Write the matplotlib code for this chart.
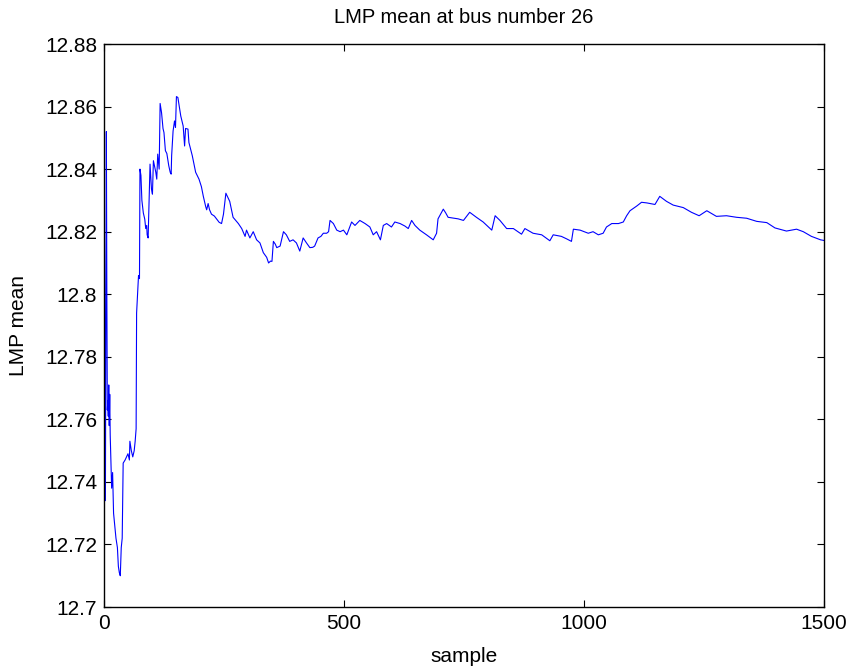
import matplotlib.pyplot as plt
from matplotlib.ticker import FuncFormatter

plt.rcParams['font.family'] = ['Liberation Sans', 'DejaVu Sans']

# running LMP mean (sample index, value)
sample = [1, 2, 3, 4, 5, 6, 7, 8, 9, 10, 11, 12, 13, 14, 15, 16, 18, 20, 23, 25,
          28, 30, 32, 34, 36, 38, 40, 44, 47, 50, 53, 54, 57, 60, 63, 65, 67, 68,
          70, 72, 74, 75, 77, 79, 82, 85, 87, 89, 90, 92, 94, 96, 99, 101, 103,
          106, 108, 110, 112, 115, 117, 120, 123, 125, 128, 131, 135, 138, 140,
          141, 144, 147, 149, 151, 154, 157, 160, 165, 168, 170, 175, 177, 184,
          191, 198, 203, 207, 212, 214, 217, 220, 224, 230, 235, 240, 245, 249,
          254, 258, 262, 269, 275, 280, 287, 294, 297, 304, 311, 318, 325, 332,
          339, 343, 347, 350, 353, 357, 360, 367, 374, 380, 387, 394, 401, 408,
          415, 422, 429, 435, 439, 446, 452, 457, 464, 468, 471, 478, 485, 492,
          499, 506, 516, 523, 533, 544, 554, 561, 568, 576, 582, 589, 599, 606,
          617, 627, 634, 641, 648, 658, 672, 686, 693, 696, 707, 712, 717, 738,
          749, 762, 776, 790, 801, 808, 815, 825, 839, 853, 870, 877, 894, 912,
          929, 936, 953, 964, 974, 978, 992, 1009, 1019, 1030, 1040, 1047, 1058,
          1072, 1082, 1089, 1096, 1110, 1120, 1131, 1148, 1158, 1172, 1186, 1207,
          1224, 1240, 1256, 1276, 1297, 1318, 1339, 1360, 1381, 1398, 1422, 1443,
          1457, 1474, 1493, 1500]
lmp_mean = [12.821, 12.775, 12.734, 12.800, 12.852, 12.800, 12.763, 12.766, 12.761,
            12.771, 12.758, 12.768, 12.755, 12.749, 12.744, 12.738, 12.743, 12.730,
            12.725, 12.722, 12.719, 12.713, 12.711, 12.710, 12.719, 12.722, 12.746,
            12.747, 12.748, 12.749, 12.747, 12.753, 12.750, 12.748, 12.750, 12.753,
            12.757, 12.794, 12.800, 12.806, 12.805, 12.840, 12.838, 12.830, 12.826,
            12.824, 12.821, 12.822, 12.819, 12.818, 12.830, 12.8416, 12.8336, 12.832,
            12.8427, 12.8405, 12.839, 12.8368, 12.8448, 12.840, 12.861, 12.858,
            12.853, 12.8517, 12.8459, 12.845, 12.8411, 12.839, 12.8384, 12.8443,
            12.8522, 12.8554, 12.8533, 12.8632, 12.8629, 12.860, 12.857, 12.8538,
            12.8474, 12.853, 12.8528, 12.8485, 12.8443, 12.839, 12.8368, 12.8344,
            12.8313, 12.828, 12.827, 12.829, 12.827, 12.8256, 12.825, 12.824,
            12.823, 12.8226, 12.8256, 12.8323, 12.831, 12.8297, 12.8246, 12.8235,
            12.8226, 12.821, 12.8185, 12.8205, 12.818, 12.820, 12.8174, 12.8164,
            12.8133, 12.8118, 12.810, 12.8106, 12.8105, 12.8169, 12.816, 12.8149,
            12.8154, 12.820, 12.819, 12.8169, 12.8174, 12.8164, 12.8138, 12.818,
            12.8164, 12.8149, 12.815, 12.8154, 12.818, 12.8185, 12.8195, 12.8195,
            12.820, 12.8236, 12.8226, 12.8205, 12.820, 12.8205, 12.819, 12.8231,
            12.822, 12.8236, 12.8226, 12.8215, 12.819, 12.820, 12.8174, 12.822,
            12.8226, 12.8215, 12.8231, 12.8226, 12.8218, 12.821, 12.8236, 12.822,
            12.8205, 12.819, 12.8174, 12.8195, 12.8241, 12.8272, 12.826, 12.8246,
            12.8241, 12.8236, 12.8262, 12.8246, 12.8231, 12.8215, 12.8205, 12.8251,
            12.8236, 12.821, 12.821, 12.8192, 12.821, 12.8195, 12.819, 12.8171,
            12.819, 12.8185, 12.8177, 12.8169, 12.8208, 12.8205, 12.8195, 12.820,
            12.819, 12.8195, 12.8215, 12.8226, 12.8226, 12.8231, 12.8251, 12.8267,
            12.8282, 12.8294, 12.8292, 12.8287, 12.8313, 12.8297, 12.8285, 12.8277,
            12.8262, 12.8251, 12.8267, 12.8249, 12.8251, 12.8246, 12.8243, 12.8233,
            12.8229, 12.8212, 12.8202, 12.8208, 12.820, 12.8185, 12.8174, 12.8172]

x_ticks = [0, 500, 1000, 1500]
y_ticks = [12.70, 12.72, 12.74, 12.76, 12.78, 12.80, 12.82, 12.84, 12.86, 12.88]

fig = plt.figure(figsize=(8.48, 6.68), dpi=100)
ax = fig.add_axes([0.1226, 0.0913, 0.849, 0.8428])
ax.plot(sample, lmp_mean, color='#0000ff', linewidth=0.8)

ax.set_xlim(0, 1500)
ax.set_ylim(12.70, 12.88)
ax.set_xticks(x_ticks)
ax.set_yticks(y_ticks)
ax.yaxis.set_major_formatter(FuncFormatter(lambda v, p: '%g' % round(v, 2)))
ax.tick_params(direction='in', length=5, width=0.8, top=True, right=True,
               labelsize=15, pad=5)
for s in ax.spines.values():
    s.set_linewidth(1.0)

ax.set_title('LMP mean at bus number 26', fontsize=14.5, pad=15)
ax.set_xlabel('sample', fontsize=15, labelpad=10)
ax.set_ylabel('LMP mean', fontsize=15, labelpad=12)

fig.savefig('out.png', dpi=100)
